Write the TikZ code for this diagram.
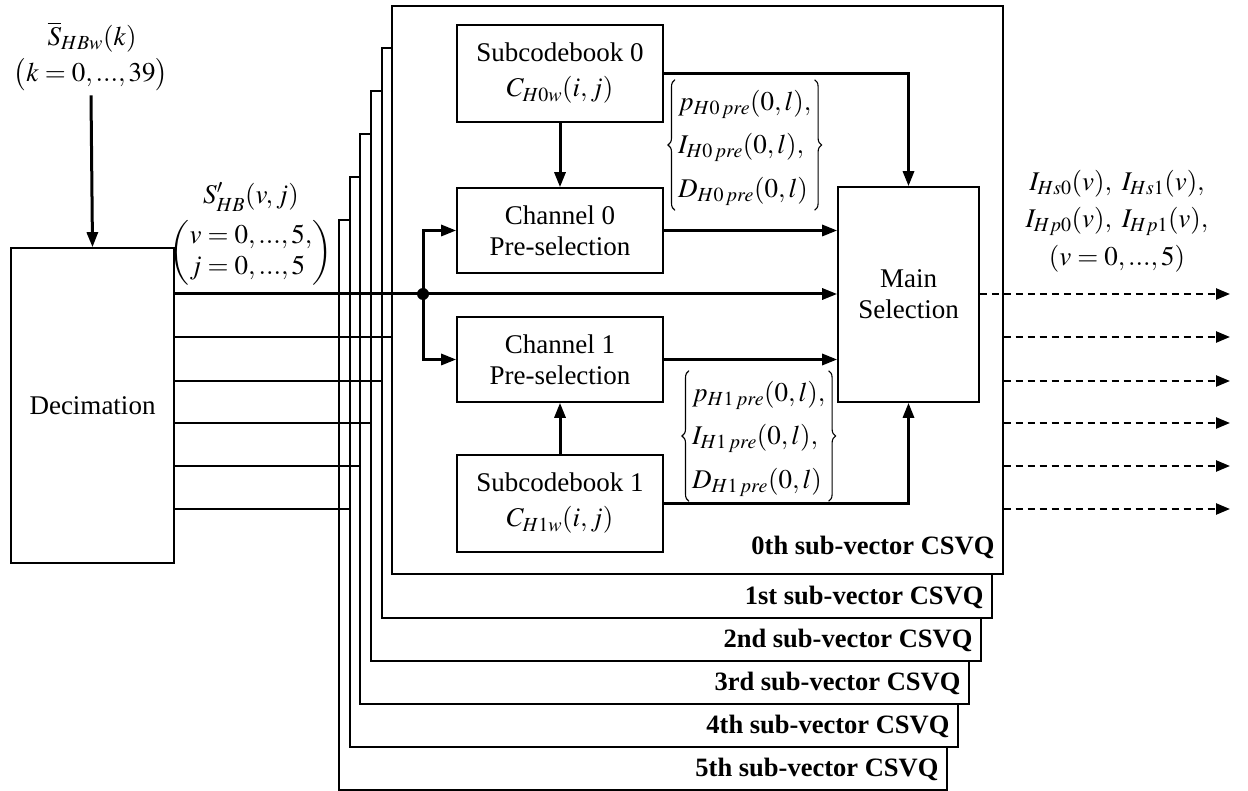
\documentclass[tikz,border=0pt]{standalone}
\usepackage{amsmath}
\usepackage{mathptmx}
\usepackage[no-math]{fontspec}
\setmainfont{Liberation Serif}
\usetikzlibrary{arrows.meta,decorations.pathreplacing}
\newcommand{\presub}[1]{_{H#1\mkern2mu pre}}
\begin{document}
\begin{tikzpicture}[x=1pt,y=-1pt,
  txt/.style={font=\fontsize{27}{31}\selectfont, inner sep=0pt},
  blk/.style={draw, line width=1.6pt, fill=white, txt, align=center},
  conn/.style={line width=3pt, -{Triangle[length=15pt,width=11pt]}},
  sigline/.style={line width=1.6pt},
  dashout/.style={line width=2.4pt, dash pattern=on 7pt off 5pt, -{Triangle[length=14pt,width=11pt]}},
  csvq/.style={draw, line width=1.6pt, fill=white, anchor=north west, inner sep=0pt},
  csvqlab/.style={font=\fontsize{26.5}{30}\selectfont\bfseries, anchor=east, inner sep=0pt},
  setlist/.style={txt, anchor=west, inner xsep=3pt, inner ysep=0pt, minimum height=123pt},
  curly/.style={line width=1.1pt, decorate, decoration={brace, amplitude=7pt}}
]
\useasboundingbox (0,0) rectangle (1248,791);

% rows of the six sub-vector signals
\foreach \k/\y in {1/294,2/337,3/381,4/423,5/466,6/509}
  \coordinate (r\k) at (0,\y);

% input labels and decimation block
\node[txt] (sbar) at (92,37) {$\overline{S}_{HBw}(k)$};
\node[txt] (krange) at (91,75) {$\bigl(k=0,...,39\bigr)$};
\node[blk, minimum width=163pt, minimum height=315pt] (dec) at (92.5,405.5) {Decimation};
\draw[conn] ([yshift=-4pt]krange.south) -- (dec.north);

\node[txt] (sprime) at (251,197) {$S'_{HB}(v,j)$};
\node[txt] (vjrange) at (251,253) {\setlength{\arraycolsep}{1.5pt}$\begin{pmatrix} v=0,...,5,\\ j=0,...,5\phantom{,} \end{pmatrix}$};

% stacked sub-vector CSVQ frames, back to front, each fed by its own line
\node[csvq, minimum width=608pt, minimum height=570pt] (v5) at (338,219) {};
\node[csvqlab] (l5) at ([xshift=-9pt,yshift=21pt]v5.south east) {5th sub-vector CSVQ};
\draw[sigline] (dec.east |- r6) -- ([xshift=30pt]v5.west |- r6);
\node[csvq, minimum width=608pt, minimum height=570pt] (v4) at (349,176) {};
\node[csvqlab] (l4) at ([xshift=-9pt,yshift=21pt]v4.south east) {4th sub-vector CSVQ};
\draw[sigline] (dec.east |- r5) -- ([xshift=30pt]v4.west |- r5);
\node[csvq, minimum width=609pt, minimum height=570pt] (v3) at (359,133) {};
\node[csvqlab] (l3) at ([xshift=-9pt,yshift=21pt]v3.south east) {3rd sub-vector CSVQ};
\draw[sigline] (dec.east |- r4) -- ([xshift=30pt]v3.west |- r4);
\node[csvq, minimum width=610pt, minimum height=570pt] (v2) at (370,90) {};
\node[csvqlab] (l2) at ([xshift=-9pt,yshift=21pt]v2.south east) {2nd sub-vector CSVQ};
\draw[sigline] (dec.east |- r3) -- ([xshift=30pt]v2.west |- r3);
\node[csvq, minimum width=610pt, minimum height=570pt] (v1) at (381,47) {};
\node[csvqlab] (l1) at ([xshift=-9pt,yshift=21pt]v1.south east) {1st sub-vector CSVQ};
\draw[sigline] (dec.east |- r2) -- ([xshift=30pt]v1.west |- r2);
\node[csvq, minimum width=611pt, minimum height=568pt] (v0) at (391,5) {};
\node[csvqlab] (l0) at ([xshift=-9pt,yshift=27pt]v0.south east) {0th sub-vector CSVQ};

% blocks of the 0th sub-vector
\node[blk, minimum width=206pt, minimum height=97pt, font=\fontsize{27}{35}\selectfont] (sc0) at (560,73.5) {Subcodebook 0\\ $C_{H0w}(i,j)$};
\node[blk, minimum width=206pt, minimum height=85pt] (ch0) at (560,230.5) {Channel 0\\ Pre-selection};
\node[blk, minimum width=206pt, minimum height=85pt] (ch1) at (560,359.5) {Channel 1\\ Pre-selection};
\node[blk, minimum width=206pt, minimum height=97pt, font=\fontsize{27}{35}\selectfont] (sc1) at (560,503.5) {Subcodebook 1\\ $C_{H1w}(i,j)$};
\node[blk, minimum width=141pt, minimum height=215pt] (ms) at (908.5,294.5) {Main\\ Selection};

% candidate sets passed from the pre-selections
\node[setlist] (set0) at (675,145) {\renewcommand{\arraystretch}{1.4}%
  $\begin{array}{@{}l@{}} p\presub{0}(0,l),\\ I\presub{0}(0,l),\\ D\presub{0}(0,l) \end{array}$};
\draw[curly] (set0.south west) -- (set0.north west);
\draw[curly] (set0.north east) -- (set0.south east);
\node[setlist] (set1) at (689,436) {\renewcommand{\arraystretch}{1.4}%
  $\begin{array}{@{}l@{}} p\presub{1}(0,l),\\ I\presub{1}(0,l),\\ D\presub{1}(0,l) \end{array}$};
\draw[curly] (set1.south west) -- (set1.north west);
\draw[curly] (set1.north east) -- (set1.south east);

% connectors
\coordinate (J) at (423,294);
\draw[conn] (dec.east |- r1) -- (ms.west |- r1);
\fill (J) circle (6pt);
\draw[conn] (J) |- (ch0.west);
\draw[conn] (J) |- (ch1.west);
\draw[conn] (sc0.south) -- (ch0.north);
\draw[conn] (sc1.north) -- (ch1.south);
\draw[conn] (ch0.east) -- (ms.west |- ch0.east);
\draw[conn] (ch1.east) -- (ms.west |- ch1.east);
\draw[conn] (sc0.east) -| (ms.north);
\draw[conn] (sc1.east) -| (ms.south);

% outputs
\foreach \k in {1,...,6}
  \coordinate (o\k) at (1230,0 |- r\k);
\draw[dashout] (ms.east |- r1) -- (o1);
\foreach \k in {2,...,6}
  \draw[dashout] (v0.east |- r\k) -- (o\k);

\node[txt, align=center, font=\fontsize{27}{37.5}\selectfont] (outlab) at (1117,221)
  {$I_{Hs0}(v),\ I_{Hs1}(v),$\\ $I_{Hp0}(v),\ I_{Hp1}(v),$\\ $(v=0,...,5)$};
\end{tikzpicture}
\end{document}
